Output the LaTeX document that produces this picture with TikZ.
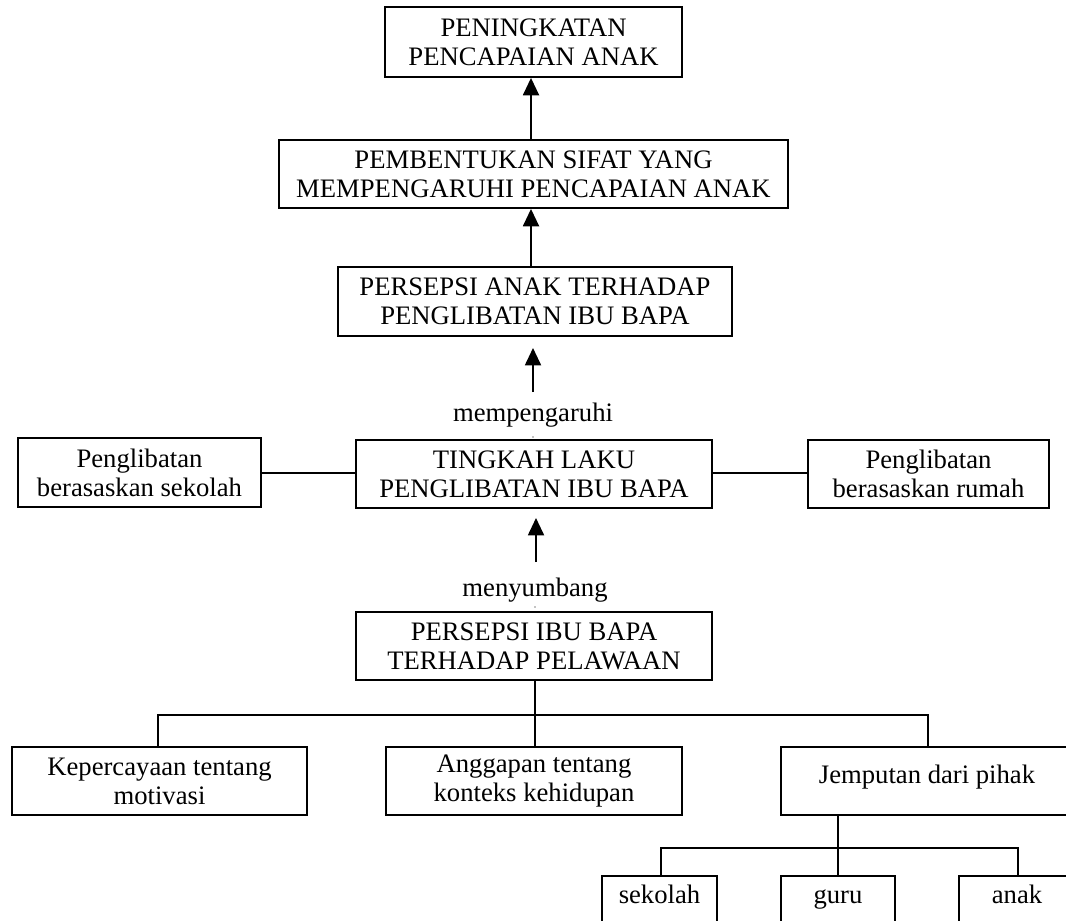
\documentclass[tikz,border=0pt]{standalone}
\usepackage{fontspec}
\setmainfont{Liberation Serif}
\usetikzlibrary{arrows.meta}
\begin{document}
\begin{tikzpicture}[x=0.75pt,y=-0.75pt,
  bx/.style 2 args={draw,line width=1.4pt,inner sep=0pt,align=center,
    minimum width=#1*0.75pt,minimum height=#2*0.75pt,
    font=\fontsize{20}{21.7}\selectfont},
  one/.style={text height=0.66em,text depth=0.22em},
  lbl/.style={inner sep=0pt,font=\fontsize{20}{21.7}\selectfont},
  conn/.style={line width=1.2pt},
  arr/.style={line width=1.4pt,-{Triangle[length=13pt,width=12pt]}}]
\useasboundingbox (0,0) rectangle (1066,920);
\clip (0,0) rectangle (1066,920);
% top chain
\node[bx={297}{70}] (b1) at (533.5,42) {PENINGKATAN\\PENCAPAIAN ANAK};
\node[bx={509}{68}] (b2) at (533.5,174) {PEMBENTUKAN SIFAT YANG\\MEMPENGARUHI PENCAPAIAN ANAK};
\node[bx={394}{69}] (b3) at (535,301.5) {PERSEPSI ANAK TERHADAP\\PENGLIBATAN IBU BAPA};
\node[bx={356}{68}] (b4) at (534,474) {TINGKAH LAKU\\PENGLIBATAN IBU BAPA};
\node[bx={243}{69}] (bl) at (139.5,472.5) {Penglibatan\\berasaskan sekolah};
\node[bx={241}{68}] (br) at (928.5,474) {Penglibatan\\berasaskan rumah};
\node[bx={356}{68}] (b5) at (534,646) {PERSEPSI IBU BAPA\\TERHADAP PELAWAAN};
\node[bx={295}{68}] (k) at (159.5,781) {Kepercayaan tentang\\motivasi};
\node[bx={296}{68}] (a) at (534,781) {Anggapan tentang\\konteks kehidupan};
\node[bx={292}{68},one] (j) at (927,781) {Jemputan dari pihak};
\node[bx={115}{50},one] (s) at (659.5,901) {sekolah};
\node[bx={114}{50},one] (g) at (838,901) {guru};
\node[bx={116}{50},one] (n) at (1017,901) {anak};
% labels
\node[lbl] (mp) at (533,415) {mempengaruhi};
\node[lbl] (ms) at (535,590) {menyumbang};
\fill (533,437) circle (0.6);
\fill (535,607) circle (0.6);
% arrows
\draw[arr] (b2.north -| 531,0) -- (b1.south -| 531,0);
\draw[arr] (b3.north -| 531,0) -- (b2.south -| 531,0);
\coordinate (a3s) at (533,392);
\coordinate (a3e) at (533,348);
\draw[arr] (a3s) -- (a3e);
\coordinate (a4s) at (536,562);
\coordinate (a4e) at (536,518);
\draw[arr] (a4s) -- (a4e);
% side links
\draw[conn] (bl.east |- 0,473) -- (b4.west |- 0,473);
\draw[conn] (b4.east |- 0,473) -- (br.west |- 0,473);
% lower tree
\draw[conn] (b5.south -| 535,0) -- (a.north -| 535,0);
\draw[conn] (k.north -| 158,0) -- (158,715) -- (928,715) -- (j.north -| 928,0);
\draw[conn] (j.south -| 838,0) -- (g.north -| 838,0);
\draw[conn] (s.north -| 661,0) -- (661,848) -- (1018,848) -- (n.north -| 1018,0);
\end{tikzpicture}
\end{document}
